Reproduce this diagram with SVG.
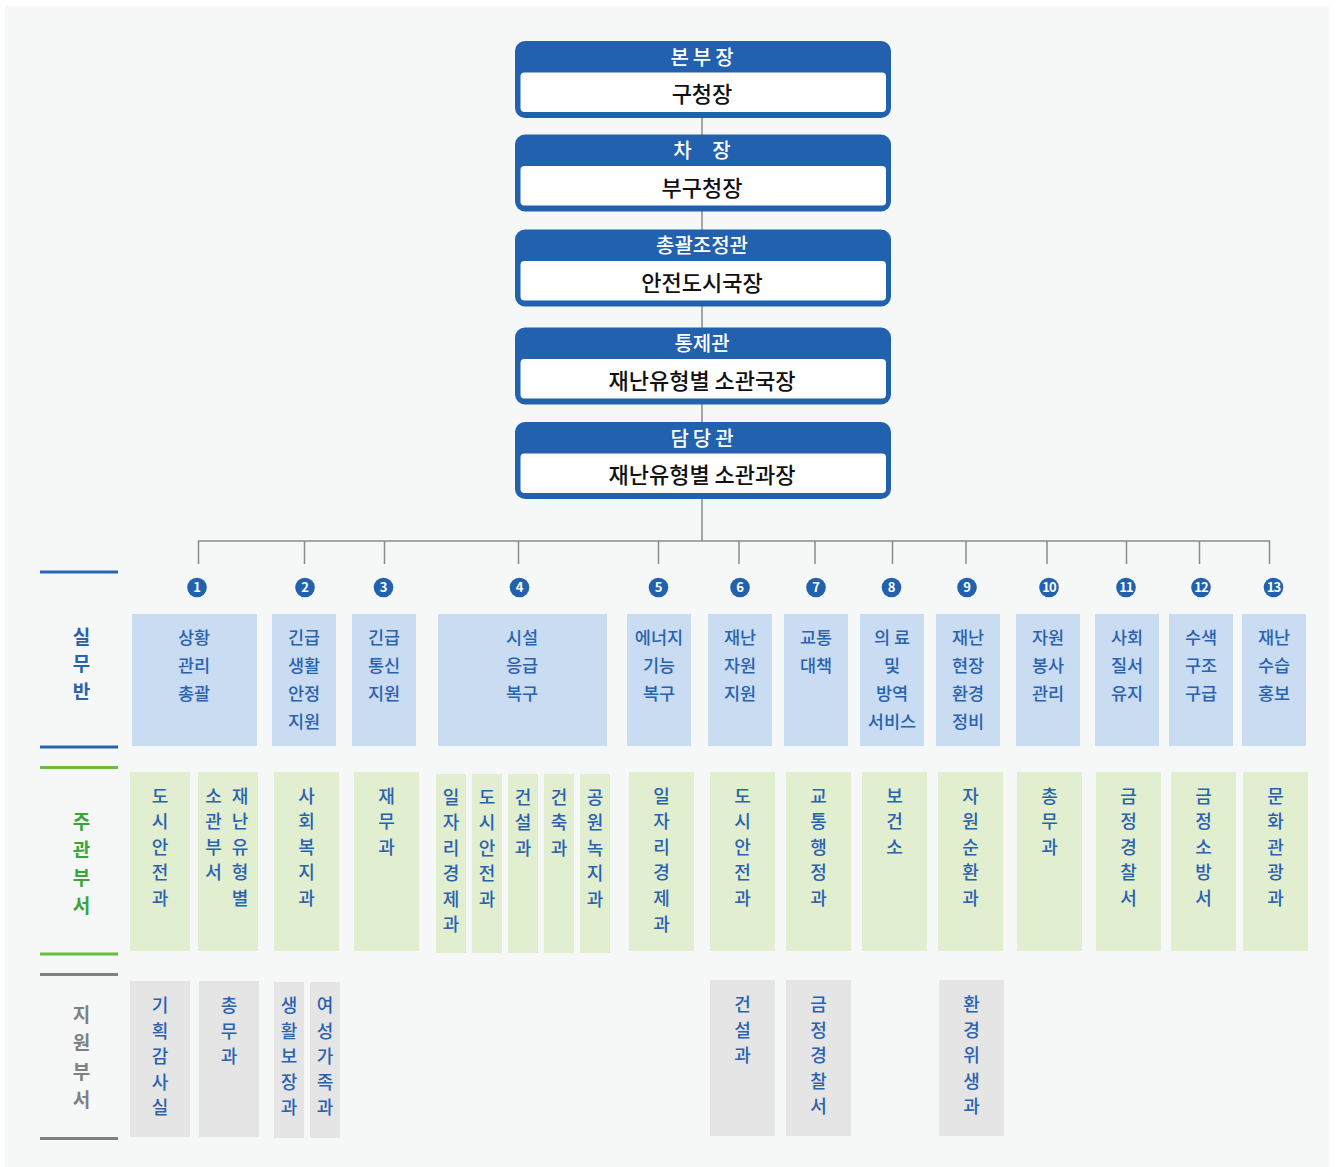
<svg xmlns="http://www.w3.org/2000/svg" width="1336" height="1167" viewBox="0 0 1336 1167">
<style>
text{font-family:"Noto Sans CJK KR","Noto Sans",sans-serif}
.bg{fill:#f6f8f8}
.hb{fill:#2161ae}
.hw{fill:#ffffff}
.ht{fill:#ffffff;font-size:20px;font-weight:500;text-anchor:middle}
.wt{fill:#111111;font-size:22px;font-weight:500;text-anchor:middle}
.con{stroke:#8a8a8a;stroke-width:1.5;fill:none}
.cir{fill:#2161ae}
.num{fill:#ffffff;font-size:13px;font-weight:700;text-anchor:middle}
.lb{fill:#c9dcf2}
.lg{fill:#e1eecf}
.gr{fill:#e5e5e5}
.bt{fill:#2a62b0;font-size:17.5px;font-weight:500;text-anchor:middle}
.vt{fill:#2a62b0;font-size:18px;font-weight:500;text-anchor:middle}
.lab1{fill:#2a62b0;font-size:19px;font-weight:700;text-anchor:middle}
.lab2{fill:#3aa53a;font-size:19px;font-weight:700;text-anchor:middle}
.lab3{fill:#808080;font-size:19px;font-weight:700;text-anchor:middle}
.l1{stroke:#2a62b0;stroke-width:3}
.l2{stroke:#6cbb3c;stroke-width:3}
.l3{stroke:#808080;stroke-width:3}
</style>
<rect class="bg" x="5" y="6" width="1324" height="1161"/>

<g id="connectors">
<line class="con" x1="702" y1="117" x2="702" y2="541"/>
<polyline class="con" points="198.5,564 198.5,541 1269.5,541 1269.5,564"/>
<line class="con" x1="304.5" y1="541" x2="304.5" y2="564"/>
<line class="con" x1="384.5" y1="541" x2="384.5" y2="564"/>
<line class="con" x1="518.5" y1="541" x2="518.5" y2="564"/>
<line class="con" x1="658.5" y1="541" x2="658.5" y2="564"/>
<line class="con" x1="739" y1="541" x2="739" y2="564"/>
<line class="con" x1="815" y1="541" x2="815" y2="564"/>
<line class="con" x1="892.5" y1="541" x2="892.5" y2="564"/>
<line class="con" x1="966" y1="541" x2="966" y2="564"/>
<line class="con" x1="1047" y1="541" x2="1047" y2="564"/>
<line class="con" x1="1126.5" y1="541" x2="1126.5" y2="564"/>
<line class="con" x1="1199.5" y1="541" x2="1199.5" y2="564"/>
</g>

<g id="top1">
<rect class="hb" x="515" y="41" width="376" height="77" rx="10"/>
<rect class="hw" x="520.5" y="72.5" width="365.5" height="39.5" rx="4"/>
<text class="ht" x="704" y="64.5" letter-spacing="4">본부장</text>
<text class="wt" x="702" y="102">구청장</text>
</g>
<g id="top2">
<rect class="hb" x="515" y="134.5" width="376" height="77" rx="10"/>
<rect class="hw" x="520.5" y="166" width="365.5" height="39.5" rx="4"/>
<text class="ht" x="706" y="158" letter-spacing="8" xml:space="preserve">차 장</text>
<text class="wt" x="702" y="195.5">부구청장</text>
</g>
<g id="top3">
<rect class="hb" x="515" y="229.5" width="376" height="77" rx="10"/>
<rect class="hw" x="520.5" y="261" width="365.5" height="39.5" rx="4"/>
<text class="ht" x="702" y="253">총괄조정관</text>
<text class="wt" x="702" y="290.5">안전도시국장</text>
</g>
<g id="top4">
<rect class="hb" x="515" y="327.5" width="376" height="77" rx="10"/>
<rect class="hw" x="520.5" y="359" width="365.5" height="39.5" rx="4"/>
<text class="ht" x="702" y="351">통제관</text>
<text class="wt" x="702" y="388.5">재난유형별 소관국장</text>
</g>
<g id="top5">
<rect class="hb" x="515" y="422" width="376" height="77" rx="10"/>
<rect class="hw" x="520.5" y="453.5" width="365.5" height="39.5" rx="4"/>
<text class="ht" x="704" y="445.5" letter-spacing="4">담당관</text>
<text class="wt" x="702" y="483">재난유형별 소관과장</text>
</g>

<g id="labels">
<line class="l1" x1="40" y1="572" x2="118" y2="572"/>
<line class="l1" x1="40" y1="747" x2="118" y2="747"/>
<text class="lab1" x="81.5"><tspan x="81.5" y="643.5">실</tspan><tspan x="81.5" y="671">무</tspan><tspan x="81.5" y="698.5">반</tspan></text>
<line class="l2" x1="40" y1="767.5" x2="118" y2="767.5"/>
<line class="l2" x1="40" y1="954" x2="118" y2="954"/>
<text class="lab2" x="81.5"><tspan x="81.5" y="828.5">주</tspan><tspan x="81.5" y="856.5">관</tspan><tspan x="81.5" y="884.5">부</tspan><tspan x="81.5" y="912.5">서</tspan></text>
<line class="l3" x1="40" y1="974.5" x2="118" y2="974.5"/>
<line class="l3" x1="40" y1="1138.5" x2="118" y2="1138.5"/>
<text class="lab3" x="81.5"><tspan x="81.5" y="1022">지</tspan><tspan x="81.5" y="1050.3">원</tspan><tspan x="81.5" y="1078.6">부</tspan><tspan x="81.5" y="1106.9">서</tspan></text>
</g>

<g id="numbers">
<circle class="cir" cx="197" cy="587.5" r="9.8"/><text class="num" x="197" y="592.3">1</text>
<circle class="cir" cx="305" cy="587.5" r="9.8"/><text class="num" x="305" y="592.3">2</text>
<circle class="cir" cx="383.5" cy="587.5" r="9.8"/><text class="num" x="383.5" y="592.3">3</text>
<circle class="cir" cx="519.5" cy="587.5" r="9.8"/><text class="num" x="519.5" y="592.3">4</text>
<circle class="cir" cx="658.5" cy="587.5" r="9.8"/><text class="num" x="658.5" y="592.3">5</text>
<circle class="cir" cx="740" cy="587.5" r="9.8"/><text class="num" x="740" y="592.3">6</text>
<circle class="cir" cx="816" cy="587.5" r="9.8"/><text class="num" x="816" y="592.3">7</text>
<circle class="cir" cx="891.5" cy="587.5" r="9.8"/><text class="num" x="891.5" y="592.3">8</text>
<circle class="cir" cx="967" cy="587.5" r="9.8"/><text class="num" x="967" y="592.3">9</text>
<circle class="cir" cx="1049" cy="587.5" r="9.8"/><text class="num" x="1049" y="591.8" font-size="11.5" letter-spacing="-1">10</text>
<circle class="cir" cx="1126" cy="587.5" r="9.8"/><text class="num" x="1126" y="591.8" font-size="11.5" letter-spacing="-1">11</text>
<circle class="cir" cx="1201" cy="587.5" r="9.8"/><text class="num" x="1201" y="591.8" font-size="11.5" letter-spacing="-1">12</text>
<circle class="cir" cx="1273.5" cy="587.5" r="9.8"/><text class="num" x="1273.5" y="591.8" font-size="11.5" letter-spacing="-1">13</text>
</g>

<g id="task1"><rect class="lb" x="132" y="614" width="125" height="132"/><text class="bt"><tspan x="194" y="644">상황</tspan><tspan x="194" y="672">관리</tspan><tspan x="194" y="700">총괄</tspan></text></g>
<g id="task2"><rect class="lb" x="272" y="614" width="64" height="132"/><text class="bt"><tspan x="304" y="644">긴급</tspan><tspan x="304" y="672">생활</tspan><tspan x="304" y="700">안정</tspan><tspan x="304" y="728">지원</tspan></text></g>
<g id="task3"><rect class="lb" x="352" y="614" width="64" height="132"/><text class="bt"><tspan x="384" y="644">긴급</tspan><tspan x="384" y="672">통신</tspan><tspan x="384" y="700">지원</tspan></text></g>
<g id="task4"><rect class="lb" x="438" y="614" width="169" height="132"/><text class="bt"><tspan x="522" y="644">시설</tspan><tspan x="522" y="672">응급</tspan><tspan x="522" y="700">복구</tspan></text></g>
<g id="task5"><rect class="lb" x="627" y="614" width="64" height="132"/><text class="bt"><tspan x="659" y="644">에너지</tspan><tspan x="659" y="672">기능</tspan><tspan x="659" y="700">복구</tspan></text></g>
<g id="task6"><rect class="lb" x="708" y="614" width="64" height="132"/><text class="bt"><tspan x="740" y="644">재난</tspan><tspan x="740" y="672">자원</tspan><tspan x="740" y="700">지원</tspan></text></g>
<g id="task7"><rect class="lb" x="784" y="614" width="64" height="132"/><text class="bt"><tspan x="816" y="644">교통</tspan><tspan x="816" y="672">대책</tspan></text></g>
<g id="task8"><rect class="lb" x="860" y="614" width="64" height="132"/><text class="bt"><tspan x="892" y="644">의 료</tspan><tspan x="892" y="672">및</tspan><tspan x="892" y="700">방역</tspan><tspan x="892" y="728">서비스</tspan></text></g>
<g id="task9"><rect class="lb" x="936" y="614" width="64" height="132"/><text class="bt"><tspan x="968" y="644">재난</tspan><tspan x="968" y="672">현장</tspan><tspan x="968" y="700">환경</tspan><tspan x="968" y="728">정비</tspan></text></g>
<g id="task10"><rect class="lb" x="1016" y="614" width="64" height="132"/><text class="bt"><tspan x="1048" y="644">자원</tspan><tspan x="1048" y="672">봉사</tspan><tspan x="1048" y="700">관리</tspan></text></g>
<g id="task11"><rect class="lb" x="1095" y="614" width="64" height="132"/><text class="bt"><tspan x="1127" y="644">사회</tspan><tspan x="1127" y="672">질서</tspan><tspan x="1127" y="700">유지</tspan></text></g>
<g id="task12"><rect class="lb" x="1169" y="614" width="64" height="132"/><text class="bt"><tspan x="1201" y="644">수색</tspan><tspan x="1201" y="672">구조</tspan><tspan x="1201" y="700">구급</tspan></text></g>
<g id="task13"><rect class="lb" x="1242" y="614" width="64" height="132"/><text class="bt"><tspan x="1274" y="644">재난</tspan><tspan x="1274" y="672">수습</tspan><tspan x="1274" y="700">홍보</tspan></text></g>

<g id="lead1a"><rect class="lg" x="130" y="772" width="60" height="179"/><text class="vt"><tspan x="160" y="802.5">도</tspan><tspan x="160" y="828.1">시</tspan><tspan x="160" y="853.7">안</tspan><tspan x="160" y="879.3">전</tspan><tspan x="160" y="904.9">과</tspan></text></g>
<g id="lead1b"><rect class="lg" x="198" y="772" width="60" height="179"/><text class="vt"><tspan x="240" y="802.5">재</tspan><tspan x="240" y="828.1">난</tspan><tspan x="240" y="853.7">유</tspan><tspan x="240" y="879.3">형</tspan><tspan x="240" y="904.9">별</tspan></text><text class="vt"><tspan x="213.5" y="802.5">소</tspan><tspan x="213.5" y="828.1">관</tspan><tspan x="213.5" y="853.7">부</tspan><tspan x="213.5" y="879.3">서</tspan></text></g>
<g id="lead2"><rect class="lg" x="274" y="772" width="65" height="179"/><text class="vt"><tspan x="306.5" y="802.5">사</tspan><tspan x="306.5" y="828.1">회</tspan><tspan x="306.5" y="853.7">복</tspan><tspan x="306.5" y="879.3">지</tspan><tspan x="306.5" y="904.9">과</tspan></text></g>
<g id="lead3"><rect class="lg" x="354" y="772" width="65" height="179"/><text class="vt"><tspan x="386.5" y="802.5">재</tspan><tspan x="386.5" y="828.1">무</tspan><tspan x="386.5" y="853.7">과</tspan></text></g>
<g id="lead4a"><rect class="lg" x="436" y="774" width="30" height="179"/><text class="vt"><tspan x="451" y="804">일</tspan><tspan x="451" y="829.4">자</tspan><tspan x="451" y="854.8">리</tspan><tspan x="451" y="880.2">경</tspan><tspan x="451" y="905.6">제</tspan><tspan x="451" y="931">과</tspan></text></g>
<g id="lead4b"><rect class="lg" x="472" y="774" width="30" height="179"/><text class="vt"><tspan x="487" y="804">도</tspan><tspan x="487" y="829.4">시</tspan><tspan x="487" y="854.8">안</tspan><tspan x="487" y="880.2">전</tspan><tspan x="487" y="905.6">과</tspan></text></g>
<g id="lead4c"><rect class="lg" x="508" y="774" width="30" height="179"/><text class="vt"><tspan x="523" y="804">건</tspan><tspan x="523" y="829.4">설</tspan><tspan x="523" y="854.8">과</tspan></text></g>
<g id="lead4d"><rect class="lg" x="544" y="774" width="30" height="179"/><text class="vt"><tspan x="559" y="804">건</tspan><tspan x="559" y="829.4">축</tspan><tspan x="559" y="854.8">과</tspan></text></g>
<g id="lead4e"><rect class="lg" x="580" y="774" width="30" height="179"/><text class="vt"><tspan x="595" y="804">공</tspan><tspan x="595" y="829.4">원</tspan><tspan x="595" y="854.8">녹</tspan><tspan x="595" y="880.2">지</tspan><tspan x="595" y="905.6">과</tspan></text></g>
<g id="lead5"><rect class="lg" x="629" y="772" width="65" height="179"/><text class="vt"><tspan x="661.5" y="802.5">일</tspan><tspan x="661.5" y="828.1">자</tspan><tspan x="661.5" y="853.7">리</tspan><tspan x="661.5" y="879.3">경</tspan><tspan x="661.5" y="904.9">제</tspan><tspan x="661.5" y="930.5">과</tspan></text></g>
<g id="lead6"><rect class="lg" x="710" y="772" width="65" height="179"/><text class="vt"><tspan x="742.5" y="802.5">도</tspan><tspan x="742.5" y="828.1">시</tspan><tspan x="742.5" y="853.7">안</tspan><tspan x="742.5" y="879.3">전</tspan><tspan x="742.5" y="904.9">과</tspan></text></g>
<g id="lead7"><rect class="lg" x="786" y="772" width="65" height="179"/><text class="vt"><tspan x="818.5" y="802.5">교</tspan><tspan x="818.5" y="828.1">통</tspan><tspan x="818.5" y="853.7">행</tspan><tspan x="818.5" y="879.3">정</tspan><tspan x="818.5" y="904.9">과</tspan></text></g>
<g id="lead8"><rect class="lg" x="862" y="772" width="65" height="179"/><text class="vt"><tspan x="894.5" y="802.5">보</tspan><tspan x="894.5" y="828.1">건</tspan><tspan x="894.5" y="853.7">소</tspan></text></g>
<g id="lead9"><rect class="lg" x="938" y="772" width="65" height="179"/><text class="vt"><tspan x="970.5" y="802.5">자</tspan><tspan x="970.5" y="828.1">원</tspan><tspan x="970.5" y="853.7">순</tspan><tspan x="970.5" y="879.3">환</tspan><tspan x="970.5" y="904.9">과</tspan></text></g>
<g id="lead10"><rect class="lg" x="1017" y="772" width="65" height="179"/><text class="vt"><tspan x="1049.5" y="802.5">총</tspan><tspan x="1049.5" y="828.1">무</tspan><tspan x="1049.5" y="853.7">과</tspan></text></g>
<g id="lead11"><rect class="lg" x="1096" y="772" width="65" height="179"/><text class="vt"><tspan x="1128.5" y="802.5">금</tspan><tspan x="1128.5" y="828.1">정</tspan><tspan x="1128.5" y="853.7">경</tspan><tspan x="1128.5" y="879.3">찰</tspan><tspan x="1128.5" y="904.9">서</tspan></text></g>
<g id="lead12"><rect class="lg" x="1171" y="772" width="65" height="179"/><text class="vt"><tspan x="1203.5" y="802.5">금</tspan><tspan x="1203.5" y="828.1">정</tspan><tspan x="1203.5" y="853.7">소</tspan><tspan x="1203.5" y="879.3">방</tspan><tspan x="1203.5" y="904.9">서</tspan></text></g>
<g id="lead13"><rect class="lg" x="1243" y="772" width="65" height="179"/><text class="vt"><tspan x="1275.5" y="802.5">문</tspan><tspan x="1275.5" y="828.1">화</tspan><tspan x="1275.5" y="853.7">관</tspan><tspan x="1275.5" y="879.3">광</tspan><tspan x="1275.5" y="904.9">과</tspan></text></g>

<g id="sup1a"><rect class="gr" x="130" y="981" width="60" height="156"/><text class="vt"><tspan x="160" y="1012">기</tspan><tspan x="160" y="1037.5">획</tspan><tspan x="160" y="1063">감</tspan><tspan x="160" y="1088.5">사</tspan><tspan x="160" y="1114">실</tspan></text></g>
<g id="sup1b"><rect class="gr" x="199" y="981" width="60" height="156"/><text class="vt"><tspan x="229" y="1012">총</tspan><tspan x="229" y="1037.5">무</tspan><tspan x="229" y="1063">과</tspan></text></g>
<g id="sup2a"><rect class="gr" x="274" y="982" width="30" height="156"/><text class="vt"><tspan x="289" y="1012">생</tspan><tspan x="289" y="1037.5">활</tspan><tspan x="289" y="1063">보</tspan><tspan x="289" y="1088.5">장</tspan><tspan x="289" y="1114">과</tspan></text></g>
<g id="sup2b"><rect class="gr" x="310" y="982" width="30" height="156"/><text class="vt"><tspan x="325" y="1012">여</tspan><tspan x="325" y="1037.5">성</tspan><tspan x="325" y="1063">가</tspan><tspan x="325" y="1088.5">족</tspan><tspan x="325" y="1114">과</tspan></text></g>
<g id="sup6"><rect class="gr" x="710" y="980" width="65" height="156"/><text class="vt"><tspan x="742.5" y="1011">건</tspan><tspan x="742.5" y="1036.5">설</tspan><tspan x="742.5" y="1062">과</tspan></text></g>
<g id="sup7"><rect class="gr" x="786" y="980" width="65" height="156"/><text class="vt"><tspan x="818.5" y="1011">금</tspan><tspan x="818.5" y="1036.5">정</tspan><tspan x="818.5" y="1062">경</tspan><tspan x="818.5" y="1087.5">찰</tspan><tspan x="818.5" y="1113">서</tspan></text></g>
<g id="sup9"><rect class="gr" x="939" y="980" width="65" height="156"/><text class="vt"><tspan x="971.5" y="1011">환</tspan><tspan x="971.5" y="1036.5">경</tspan><tspan x="971.5" y="1062">위</tspan><tspan x="971.5" y="1087.5">생</tspan><tspan x="971.5" y="1113">과</tspan></text></g>
</svg>
